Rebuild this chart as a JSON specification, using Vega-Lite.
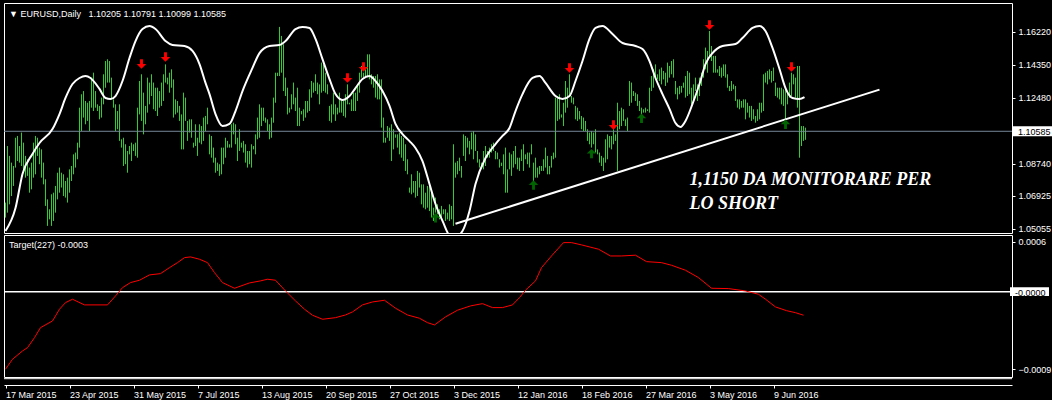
{
"$schema": "https://vega.github.io/schema/vega-lite/v6.json",
"background": "#000000",
"padding": {"left": 2, "top": 2, "right": 0, "bottom": 0},
"spacing": 2,
"bounds": "flush",
"config": {
 "view": {"stroke": "#ffffff", "strokeWidth": 1},
 "axis": {"labelFont": "Liberation Sans", "labelFontSize": 9, "labelColor": "#ffffff", "tickColor": "#ffffff", "domainColor": "#ffffff", "grid": false},
 "title": {"font": "Liberation Sans", "fontSize": 9, "fontWeight": "normal", "color": "#ffffff", "anchor": "start", "frame": "group"}
},
"datasets": {
"bars": [
{"i":0,"h":1.0655,"l":1.0570},{"i":1,"h":1.0975,"l":1.0598},{"i":2,"h":1.0919,"l":1.0645},{"i":3,"h":1.0881,"l":1.0692},{"i":4,"h":1.0862,"l":1.0749},{"i":5,"h":1.1022,"l":1.0853},{"i":6,"h":1.1032,"l":1.0890},{"i":7,"h":1.0975,"l":1.0881},{"i":8,"h":1.1051,"l":1.0862},{"i":9,"h":1.0994,"l":1.0834},
{"i":10,"h":1.0919,"l":1.0796},{"i":11,"h":1.0900,"l":1.0806},{"i":12,"h":1.0853,"l":1.0711},{"i":13,"h":1.0881,"l":1.0730},{"i":14,"h":1.0994,"l":1.0796},{"i":15,"h":1.1032,"l":1.0815},{"i":16,"h":1.1022,"l":1.0919},{"i":17,"h":1.0966,"l":1.0872},{"i":18,"h":1.0956,"l":1.0796},{"i":19,"h":1.0881,"l":1.0758},
{"i":20,"h":1.0787,"l":1.0636},{"i":21,"h":1.0673,"l":1.0523},{"i":22,"h":1.0617,"l":1.0560},{"i":23,"h":1.0702,"l":1.0523},{"i":24,"h":1.0711,"l":1.0551},{"i":25,"h":1.0749,"l":1.0598},{"i":26,"h":1.0824,"l":1.0673},{"i":27,"h":1.0853,"l":1.0711},{"i":28,"h":1.0824,"l":1.0740},{"i":29,"h":1.0815,"l":1.0692},
{"i":30,"h":1.0777,"l":1.0683},{"i":31,"h":1.0796,"l":1.0655},{"i":32,"h":1.0843,"l":1.0711},{"i":33,"h":1.0862,"l":1.0777},{"i":34,"h":1.0928,"l":1.0815},{"i":35,"h":1.0938,"l":1.0853},{"i":36,"h":1.0994,"l":1.0900},{"i":37,"h":1.1192,"l":1.0966},{"i":38,"h":1.1268,"l":1.1060},{"i":39,"h":1.1286,"l":1.1136},
{"i":40,"h":1.1230,"l":1.1098},{"i":41,"h":1.1220,"l":1.1117},{"i":42,"h":1.1230,"l":1.1060},{"i":43,"h":1.1362,"l":1.1192},{"i":44,"h":1.1390,"l":1.1173},{"i":45,"h":1.1286,"l":1.1192},{"i":46,"h":1.1211,"l":1.1173},{"i":47,"h":1.1202,"l":1.1126},{"i":48,"h":1.1249,"l":1.1136},{"i":49,"h":1.1381,"l":1.1211},
{"i":50,"h":1.1456,"l":1.1305},{"i":51,"h":1.1466,"l":1.1334},{"i":52,"h":1.1456,"l":1.1334},{"i":53,"h":1.1362,"l":1.1239},{"i":54,"h":1.1239,"l":1.1192},{"i":55,"h":1.1211,"l":1.1060},{"i":56,"h":1.1173,"l":1.1070},{"i":57,"h":1.1211,"l":1.1004},{"i":58,"h":1.1013,"l":1.0966},{"i":59,"h":1.1022,"l":1.0862},
{"i":60,"h":1.0985,"l":1.0872},{"i":61,"h":1.0947,"l":1.0824},{"i":62,"h":1.0975,"l":1.0928},{"i":63,"h":1.0994,"l":1.0890},{"i":64,"h":1.0985,"l":1.0947},{"i":65,"h":1.0994,"l":1.0919},{"i":66,"h":1.1192,"l":1.0909},{"i":67,"h":1.1343,"l":1.1154},{"i":68,"h":1.1381,"l":1.1117},{"i":69,"h":1.1277,"l":1.1041},
{"i":70,"h":1.1202,"l":1.1098},{"i":71,"h":1.1362,"l":1.1164},{"i":72,"h":1.1334,"l":1.1211},{"i":73,"h":1.1381,"l":1.1258},{"i":74,"h":1.1334,"l":1.1183},{"i":75,"h":1.1305,"l":1.1173},{"i":76,"h":1.1305,"l":1.1145},{"i":77,"h":1.1286,"l":1.1192},{"i":78,"h":1.1334,"l":1.1202},{"i":79,"h":1.1381,"l":1.1230},
{"i":80,"h":1.1437,"l":1.1334},{"i":81,"h":1.1362,"l":1.1324},{"i":82,"h":1.1390,"l":1.1277},{"i":83,"h":1.1409,"l":1.1305},{"i":84,"h":1.1352,"l":1.1136},{"i":85,"h":1.1239,"l":1.1154},{"i":86,"h":1.1230,"l":1.1164},{"i":87,"h":1.1202,"l":1.1117},{"i":88,"h":1.1154,"l":1.0956},{"i":89,"h":1.1277,"l":1.0956},
{"i":90,"h":1.1249,"l":1.1117},{"i":91,"h":1.1117,"l":1.1004},{"i":92,"h":1.1126,"l":1.1051},{"i":93,"h":1.1126,"l":1.1022},{"i":94,"h":1.0994,"l":1.0966},{"i":95,"h":1.1098,"l":1.0975},{"i":96,"h":1.1022,"l":1.0919},{"i":97,"h":1.1098,"l":1.0994},{"i":98,"h":1.1088,"l":1.0985},{"i":99,"h":1.1136,"l":1.1004},
{"i":100,"h":1.1145,"l":1.1060},{"i":101,"h":1.1192,"l":1.1098},{"i":102,"h":1.1041,"l":1.0928},{"i":103,"h":1.1032,"l":1.0909},{"i":104,"h":1.0966,"l":1.0881},{"i":105,"h":1.0909,"l":1.0824},{"i":106,"h":1.0881,"l":1.0834},{"i":107,"h":1.0872,"l":1.0806},{"i":108,"h":1.0966,"l":1.0815},{"i":109,"h":1.0966,"l":1.0872},
{"i":110,"h":1.1022,"l":1.0909},{"i":111,"h":1.1004,"l":1.0966},{"i":112,"h":1.0985,"l":1.0966},{"i":113,"h":1.1098,"l":1.0966},{"i":114,"h":1.1107,"l":1.1041},{"i":115,"h":1.1098,"l":1.0985},{"i":116,"h":1.1022,"l":1.0890},{"i":117,"h":1.1070,"l":1.0947},{"i":118,"h":1.0994,"l":1.0966},{"i":119,"h":1.1004,"l":1.0938},
{"i":120,"h":1.0985,"l":1.0881},{"i":121,"h":1.0947,"l":1.0853},{"i":122,"h":1.0947,"l":1.0872},{"i":123,"h":1.0985,"l":1.0853},{"i":124,"h":1.0975,"l":1.0956},{"i":125,"h":1.1041,"l":1.0928},{"i":126,"h":1.1136,"l":1.1013},{"i":127,"h":1.1211,"l":1.1022},{"i":128,"h":1.1192,"l":1.1088},{"i":129,"h":1.1192,"l":1.1117},
{"i":130,"h":1.1136,"l":1.1107},{"i":131,"h":1.1126,"l":1.1060},{"i":132,"h":1.1098,"l":1.1013},{"i":133,"h":1.1136,"l":1.1022},{"i":134,"h":1.1249,"l":1.1107},{"i":135,"h":1.1390,"l":1.1220},{"i":136,"h":1.1390,"l":1.1371},{"i":137,"h":1.1649,"l":1.1371},{"i":138,"h":1.1598,"l":1.1390},{"i":139,"h":1.1551,"l":1.1286},
{"i":140,"h":1.1362,"l":1.1258},{"i":141,"h":1.1305,"l":1.1154},{"i":142,"h":1.1192,"l":1.1164},{"i":143,"h":1.1268,"l":1.1183},{"i":144,"h":1.1334,"l":1.1211},{"i":145,"h":1.1249,"l":1.1173},{"i":146,"h":1.1305,"l":1.1088},{"i":147,"h":1.1192,"l":1.1088},{"i":148,"h":1.1173,"l":1.1154},{"i":149,"h":1.1183,"l":1.1117},
{"i":150,"h":1.1230,"l":1.1136},{"i":151,"h":1.1230,"l":1.1164},{"i":152,"h":1.1296,"l":1.1173},{"i":153,"h":1.1343,"l":1.1249},{"i":154,"h":1.1334,"l":1.1277},{"i":155,"h":1.1381,"l":1.1286},{"i":156,"h":1.1334,"l":1.1268},{"i":157,"h":1.1324,"l":1.1211},{"i":158,"h":1.1447,"l":1.1277},{"i":159,"h":1.1437,"l":1.1286},
{"i":160,"h":1.1390,"l":1.1277},{"i":161,"h":1.1324,"l":1.1268},{"i":162,"h":1.1202,"l":1.1117},{"i":163,"h":1.1211,"l":1.1107},{"i":164,"h":1.1277,"l":1.1154},{"i":165,"h":1.1211,"l":1.1117},{"i":166,"h":1.1192,"l":1.1154},{"i":167,"h":1.1277,"l":1.1164},{"i":168,"h":1.1239,"l":1.1164},{"i":169,"h":1.1230,"l":1.1145},
{"i":170,"h":1.1268,"l":1.1136},{"i":171,"h":1.1324,"l":1.1211},{"i":172,"h":1.1220,"l":1.1211},{"i":173,"h":1.1239,"l":1.1173},{"i":174,"h":1.1277,"l":1.1173},{"i":175,"h":1.1277,"l":1.1173},{"i":176,"h":1.1315,"l":1.1230},{"i":177,"h":1.1390,"l":1.1277},{"i":178,"h":1.1428,"l":1.1362},{"i":179,"h":1.1390,"l":1.1362},
{"i":180,"h":1.1409,"l":1.1371},{"i":181,"h":1.1494,"l":1.1371},{"i":182,"h":1.1494,"l":1.1352},{"i":183,"h":1.1381,"l":1.1324},{"i":184,"h":1.1371,"l":1.1305},{"i":185,"h":1.1371,"l":1.1249},{"i":186,"h":1.1381,"l":1.1239},{"i":187,"h":1.1352,"l":1.1239},{"i":188,"h":1.1352,"l":1.1079},{"i":189,"h":1.1136,"l":1.0994},
{"i":190,"h":1.1022,"l":1.0994},{"i":191,"h":1.1088,"l":1.1022},{"i":192,"h":1.1079,"l":1.1004},{"i":193,"h":1.1098,"l":1.0890},{"i":194,"h":1.1070,"l":1.0956},{"i":195,"h":1.1041,"l":1.1022},{"i":196,"h":1.1041,"l":1.0966},{"i":197,"h":1.1051,"l":1.0928},{"i":198,"h":1.1032,"l":1.0909},{"i":199,"h":1.1022,"l":1.0890},
{"i":200,"h":1.0985,"l":1.0834},{"i":201,"h":1.0900,"l":1.0815},{"i":202,"h":1.0740,"l":1.0711},{"i":203,"h":1.0815,"l":1.0702},{"i":204,"h":1.0777,"l":1.0711},{"i":205,"h":1.0777,"l":1.0683},{"i":206,"h":1.0834,"l":1.0692},{"i":207,"h":1.0824,"l":1.0740},{"i":208,"h":1.0758,"l":1.0645},{"i":209,"h":1.0758,"l":1.0626},
{"i":210,"h":1.0711,"l":1.0617},{"i":211,"h":1.0749,"l":1.0626},{"i":212,"h":1.0758,"l":1.0607},{"i":213,"h":1.0711,"l":1.0570},{"i":214,"h":1.0626,"l":1.0551},{"i":215,"h":1.0683,"l":1.0598},{"i":216,"h":1.0645,"l":1.0589},{"i":217,"h":1.0617,"l":1.0560},{"i":218,"h":1.0636,"l":1.0570},{"i":219,"h":1.0617,"l":1.0589},
{"i":220,"h":1.0617,"l":1.0551},{"i":221,"h":1.0598,"l":1.0560},{"i":222,"h":1.0645,"l":1.0551},{"i":223,"h":1.0636,"l":1.0560},{"i":224,"h":1.0985,"l":1.0523},{"i":225,"h":1.0881,"l":1.0796},{"i":226,"h":1.0890,"l":1.0815},{"i":227,"h":1.0909,"l":1.0834},{"i":228,"h":1.0862,"l":1.0796},{"i":229,"h":1.1041,"l":1.0919},
{"i":230,"h":1.1032,"l":1.0890},{"i":231,"h":1.1022,"l":1.0966},{"i":232,"h":1.1004,"l":1.0928},{"i":233,"h":1.1051,"l":1.0956},{"i":234,"h":1.1060,"l":1.0900},{"i":235,"h":1.1041,"l":1.0947},{"i":236,"h":1.0947,"l":1.0881},{"i":237,"h":1.0900,"l":1.0853},{"i":238,"h":1.0881,"l":1.0853},{"i":239,"h":1.0947,"l":1.0843},
{"i":240,"h":1.0975,"l":1.0862},{"i":241,"h":1.0947,"l":1.0909},{"i":242,"h":1.0966,"l":1.0909},{"i":243,"h":1.0985,"l":1.0938},{"i":244,"h":1.0994,"l":1.0947},{"i":245,"h":1.0947,"l":1.0900},{"i":246,"h":1.0938,"l":1.0900},{"i":247,"h":1.0900,"l":1.0853},{"i":248,"h":1.0881,"l":1.0862},{"i":249,"h":1.0928,"l":1.0815},
{"i":250,"h":1.0966,"l":1.0711},{"i":251,"h":1.0843,"l":1.0711},{"i":252,"h":1.0938,"l":1.0843},{"i":253,"h":1.0928,"l":1.0806},{"i":254,"h":1.0947,"l":1.0853},{"i":255,"h":1.0975,"l":1.0872},{"i":256,"h":1.0909,"l":1.0843},{"i":257,"h":1.0909,"l":1.0834},{"i":258,"h":1.0956,"l":1.0890},{"i":259,"h":1.0985,"l":1.0834},
{"i":260,"h":1.0928,"l":1.0900},{"i":261,"h":1.0938,"l":1.0872},{"i":262,"h":1.0938,"l":1.0853},{"i":263,"h":1.0985,"l":1.0928},{"i":264,"h":1.0881,"l":1.0777},{"i":265,"h":1.0909,"l":1.0796},{"i":266,"h":1.0853,"l":1.0796},{"i":267,"h":1.0862,"l":1.0815},{"i":268,"h":1.0862,"l":1.0834},{"i":269,"h":1.0900,"l":1.0834},
{"i":270,"h":1.0966,"l":1.0853},{"i":271,"h":1.0919,"l":1.0815},{"i":272,"h":1.0862,"l":1.0815},{"i":273,"h":1.0919,"l":1.0853},{"i":274,"h":1.0938,"l":1.0900},{"i":275,"h":1.1249,"l":1.0909},{"i":276,"h":1.1249,"l":1.1117},{"i":277,"h":1.1268,"l":1.1126},{"i":278,"h":1.1154,"l":1.1136},{"i":279,"h":1.1220,"l":1.1088},
{"i":280,"h":1.1343,"l":1.1164},{"i":281,"h":1.1305,"l":1.1192},{"i":282,"h":1.1381,"l":1.1258},{"i":283,"h":1.1258,"l":1.1220},{"i":284,"h":1.1249,"l":1.1211},{"i":285,"h":1.1202,"l":1.1126},{"i":286,"h":1.1192,"l":1.1117},{"i":287,"h":1.1173,"l":1.1126},{"i":288,"h":1.1145,"l":1.1070},{"i":289,"h":1.1136,"l":1.1060},
{"i":290,"h":1.1117,"l":1.1060},{"i":291,"h":1.1070,"l":1.1004},{"i":292,"h":1.1051,"l":1.0985},{"i":293,"h":1.1060,"l":1.0966},{"i":294,"h":1.1051,"l":1.0985},{"i":295,"h":1.1070,"l":1.0938},{"i":296,"h":1.0956,"l":1.0928},{"i":297,"h":1.0938,"l":1.0881},{"i":298,"h":1.0919,"l":1.0862},{"i":299,"h":1.0909,"l":1.0834},
{"i":300,"h":1.1013,"l":1.0881},{"i":301,"h":1.1041,"l":1.0900},{"i":302,"h":1.1032,"l":1.0966},{"i":303,"h":1.1032,"l":1.0956},{"i":304,"h":1.1070,"l":1.0985},{"i":305,"h":1.1041,"l":1.1004},{"i":306,"h":1.1220,"l":1.0834},{"i":307,"h":1.1173,"l":1.1070},{"i":308,"h":1.1192,"l":1.1088},{"i":309,"h":1.1183,"l":1.1117},
{"i":310,"h":1.1126,"l":1.1088},{"i":311,"h":1.1136,"l":1.1060},{"i":312,"h":1.1343,"l":1.1202},{"i":313,"h":1.1334,"l":1.1220},{"i":314,"h":1.1286,"l":1.1258},{"i":315,"h":1.1277,"l":1.1230},{"i":316,"h":1.1268,"l":1.1202},{"i":317,"h":1.1230,"l":1.1173},{"i":318,"h":1.1192,"l":1.1154},{"i":319,"h":1.1183,"l":1.1164},
{"i":320,"h":1.1192,"l":1.1164},{"i":321,"h":1.1183,"l":1.1173},{"i":322,"h":1.1305,"l":1.1164},{"i":323,"h":1.1371,"l":1.1286},{"i":324,"h":1.1409,"l":1.1305},{"i":325,"h":1.1437,"l":1.1362},{"i":326,"h":1.1381,"l":1.1352},{"i":327,"h":1.1409,"l":1.1343},{"i":328,"h":1.1419,"l":1.1324},{"i":329,"h":1.1400,"l":1.1352},
{"i":330,"h":1.1390,"l":1.1315},{"i":331,"h":1.1447,"l":1.1334},{"i":332,"h":1.1428,"l":1.1362},{"i":333,"h":1.1456,"l":1.1381},{"i":334,"h":1.1466,"l":1.1362},{"i":335,"h":1.1343,"l":1.1268},{"i":336,"h":1.1305,"l":1.1239},{"i":337,"h":1.1315,"l":1.1268},{"i":338,"h":1.1315,"l":1.1277},{"i":339,"h":1.1334,"l":1.1305},
{"i":340,"h":1.1371,"l":1.1249},{"i":341,"h":1.1400,"l":1.1258},{"i":342,"h":1.1390,"l":1.1268},{"i":343,"h":1.1305,"l":1.1211},{"i":344,"h":1.1324,"l":1.1230},{"i":345,"h":1.1362,"l":1.1286},{"i":346,"h":1.1324,"l":1.1230},{"i":347,"h":1.1362,"l":1.1258},{"i":348,"h":1.1390,"l":1.1315},{"i":349,"h":1.1466,"l":1.1362},
{"i":350,"h":1.1532,"l":1.1409},{"i":351,"h":1.1513,"l":1.1390},{"i":352,"h":1.1626,"l":1.1475},{"i":353,"h":1.1541,"l":1.1456},{"i":354,"h":1.1485,"l":1.1390},{"i":355,"h":1.1485,"l":1.1390},{"i":356,"h":1.1409,"l":1.1390},{"i":357,"h":1.1428,"l":1.1371},{"i":358,"h":1.1419,"l":1.1362},{"i":359,"h":1.1437,"l":1.1371},
{"i":360,"h":1.1437,"l":1.1362},{"i":361,"h":1.1381,"l":1.1305},{"i":362,"h":1.1315,"l":1.1286},{"i":363,"h":1.1343,"l":1.1286},{"i":364,"h":1.1324,"l":1.1296},{"i":365,"h":1.1315,"l":1.1230},{"i":366,"h":1.1239,"l":1.1192},{"i":367,"h":1.1239,"l":1.1183},{"i":368,"h":1.1230,"l":1.1192},{"i":369,"h":1.1239,"l":1.1192},
{"i":370,"h":1.1239,"l":1.1126},{"i":371,"h":1.1220,"l":1.1164},{"i":372,"h":1.1202,"l":1.1136},{"i":373,"h":1.1202,"l":1.1117},{"i":374,"h":1.1183,"l":1.1126},{"i":375,"h":1.1145,"l":1.1107},{"i":376,"h":1.1183,"l":1.1117},{"i":377,"h":1.1220,"l":1.1126},{"i":378,"h":1.1220,"l":1.1164},{"i":379,"h":1.1381,"l":1.1173},
{"i":380,"h":1.1390,"l":1.1334},{"i":381,"h":1.1400,"l":1.1324},{"i":382,"h":1.1409,"l":1.1352},{"i":383,"h":1.1400,"l":1.1334},{"i":384,"h":1.1419,"l":1.1343},{"i":385,"h":1.1334,"l":1.1258},{"i":386,"h":1.1305,"l":1.1249},{"i":387,"h":1.1305,"l":1.1239},{"i":388,"h":1.1305,"l":1.1211},{"i":389,"h":1.1296,"l":1.1202},
{"i":390,"h":1.1296,"l":1.1126},{"i":391,"h":1.1286,"l":1.1211},{"i":392,"h":1.1334,"l":1.1249},{"i":393,"h":1.1390,"l":1.1258},{"i":394,"h":1.1381,"l":1.1324},{"i":395,"h":1.1362,"l":1.1249},{"i":396,"h":1.1428,"l":1.1192},{"i":397,"h":1.1428,"l":1.0909},{"i":398,"h":1.1088,"l":1.0975},{"i":399,"h":1.1088,"l":1.1004},
{"i":400,"h":1.1079,"l":1.1010}
],
"curve": [{"i":0,"p":1.0494},{"i":5,"p":1.0624},{"i":8.5,"p":1.0817},{"i":13.5,"p":1.0930},{"i":17,"p":1.0992},{"i":23.5,"p":1.1071},{"i":27,"p":1.1156},{"i":30,"p":1.1247},{"i":33.5,"p":1.1326},{"i":37,"p":1.1360},{"i":40,"p":1.1371},{"i":42.5,"p":1.1360},{"i":47,"p":1.1298},{"i":50,"p":1.1247},{"i":52.5,"p":1.1241},{"i":55,"p":1.1258},{"i":58.5,"p":1.1343},{"i":62,"p":1.1473},{"i":65,"p":1.1569},{"i":68.5,"p":1.1637},{"i":72,"p":1.1654},{"i":75,"p":1.1637},{"i":80,"p":1.1569},{"i":83.5,"p":1.1547},{"i":89.5,"p":1.1541},{"i":93.5,"p":1.1513},{"i":97,"p":1.1439},{"i":100,"p":1.1332},{"i":102,"p":1.1269},{"i":105,"p":1.1156},{"i":108.5,"p":1.1088},{"i":112,"p":1.1100},{"i":115,"p":1.1173},{"i":118.5,"p":1.1286},{"i":123.5,"p":1.1417},{"i":127,"p":1.1501},{"i":132,"p":1.1541},{"i":137,"p":1.1547},{"i":140,"p":1.1569},{"i":145,"p":1.1637},{"i":148.5,"p":1.1649},{"i":152,"p":1.1643},{"i":155,"p":1.1581},{"i":158.5,"p":1.1467},{"i":162,"p":1.1354},{"i":165,"p":1.1269},{"i":168.5,"p":1.1236},{"i":172,"p":1.1258},{"i":175,"p":1.1303},{"i":178.5,"p":1.1354},{"i":182,"p":1.1371},{"i":185,"p":1.1343},{"i":188.5,"p":1.1286},{"i":192,"p":1.1202},{"i":195,"p":1.1100},{"i":198.5,"p":1.1043},{"i":202,"p":1.1003},{"i":205,"p":1.0964},{"i":208.5,"p":1.0890},{"i":212,"p":1.0760},{"i":215,"p":1.0647},{"i":218.5,"p":1.0551},{"i":223.5,"p":1.0449},{"i":228.5,"p":1.0494},{"i":232,"p":1.0607},{"i":235,"p":1.0760},{"i":240,"p":1.0907},{"i":245,"p":1.0986},{"i":248.5,"p":1.1032},{"i":252,"p":1.1077},{"i":255,"p":1.1173},{"i":258.5,"p":1.1269},{"i":263.5,"p":1.1360},{"i":267,"p":1.1371},{"i":270,"p":1.1332},{"i":275,"p":1.1258},{"i":278.5,"p":1.1241},{"i":282,"p":1.1258},{"i":285,"p":1.1343},{"i":288.5,"p":1.1456},{"i":292,"p":1.1581},{"i":295,"p":1.1643},{"i":298.5,"p":1.1654},{"i":303.5,"p":1.1609},{"i":308.5,"p":1.1558},{"i":315,"p":1.1541},{"i":318.5,"p":1.1524},{"i":322,"p":1.1456},{"i":325,"p":1.1360},{"i":328.5,"p":1.1269},{"i":332,"p":1.1185},{"i":335,"p":1.1105},{"i":337.5,"p":1.1083},{"i":340,"p":1.1117},{"i":343.5,"p":1.1213},{"i":347,"p":1.1326},{"i":350,"p":1.1439},{"i":353.5,"p":1.1501},{"i":358.5,"p":1.1541},{"i":365,"p":1.1552},{"i":368.5,"p":1.1586},{"i":373.5,"p":1.1643},{"i":377,"p":1.1654},{"i":380,"p":1.1626},{"i":383.5,"p":1.1530},{"i":387,"p":1.1411},{"i":390,"p":1.1303},{"i":393.5,"p":1.1247},{"i":397,"p":1.1241},{"i":399.5,"p":1.1252}],
"trend": [{"i":225,"p":1.0535},{"i":437,"p":1.1294}],
"down": [{"i":68,"p":1.1439},{"i":80,"p":1.1479},{"i":171,"p":1.1360},{"i":179,"p":1.1422},{"i":282,"p":1.1417},{"i":304,"p":1.1094},{"i":352,"p":1.1660},{"i":393,"p":1.1422}],
"up": [{"i":215,"p":1.0569},{"i":264,"p":1.0754},{"i":293,"p":1.0932},{"i":318,"p":1.1132},{"i":390,"p":1.1098}],
"notes": [{"i":342,"p":1.0754,"t":"1,1150 DA MONITORARE PER"},{"i":342,"p":1.0621,"t":"LO SHORT"}],
"target": [{"i":0,"v":-0.000918},{"i":3.5,"v":-0.0008},{"i":8.5,"v":-0.000702},{"i":11,"v":-0.000663},{"i":14.5,"v":-0.000544},{"i":17.5,"v":-0.000426},{"i":23.5,"v":-0.000347},{"i":27,"v":-0.000208},{"i":30,"v":-0.00013},{"i":33.5,"v":-0.00009},{"i":39.5,"v":-0.000157},{"i":51,"v":-0.000157},{"i":55,"v":-0.000051},{"i":58.5,"v":0.000047},{"i":62.5,"v":0.000107},{"i":67,"v":0.000135},{"i":72,"v":0.000198},{"i":77.5,"v":0.000213},{"i":82,"v":0.000284},{"i":86,"v":0.000343},{"i":89.5,"v":0.000402},{"i":92.5,"v":0.000411},{"i":97,"v":0.000383},{"i":101,"v":0.000343},{"i":104.5,"v":0.000225},{"i":108.5,"v":0.000107},{"i":114.5,"v":0.00004},{"i":122,"v":0.000103},{"i":127.5,"v":0.000127},{"i":131,"v":0.000147},{"i":135,"v":0.000135},{"i":140,"v":0.000008},{"i":145,"v":-0.00011},{"i":149.5,"v":-0.000208},{"i":153.5,"v":-0.000279},{"i":158.5,"v":-0.000327},{"i":165,"v":-0.000308},{"i":170,"v":-0.000276},{"i":173.5,"v":-0.00024},{"i":178.5,"v":-0.000157},{"i":183.5,"v":-0.000122},{"i":189.5,"v":-0.000102},{"i":195,"v":-0.000196},{"i":201,"v":-0.000276},{"i":207,"v":-0.000315},{"i":211,"v":-0.000367},{"i":214.5,"v":-0.000394},{"i":220,"v":-0.000299},{"i":226,"v":-0.00022},{"i":232.5,"v":-0.000169},{"i":238.5,"v":-0.000142},{"i":243.5,"v":-0.000189},{"i":248.5,"v":-0.000189},{"i":253.5,"v":-0.000157},{"i":257,"v":-0.000071},{"i":260,"v":0.000017},{"i":265,"v":0.000127},{"i":268,"v":0.000284},{"i":273,"v":0.000422},{"i":279,"v":0.00058},{"i":283,"v":0.00058},{"i":288,"v":0.000553},{"i":296.5,"v":0.000502},{"i":302.5,"v":0.000422},{"i":308,"v":0.000422},{"i":315,"v":0.000431},{"i":320.5,"v":0.000355},{"i":328,"v":0.000343},{"i":333,"v":0.000312},{"i":340,"v":0.000253},{"i":346.5,"v":0.000166},{"i":353,"v":0.00004},{"i":361.5,"v":0.000036},{"i":370,"v":0.000008},{"i":376.5,"v":-0.000031},{"i":380,"v":-0.00009},{"i":385,"v":-0.000181},{"i":390.5,"v":-0.000225},{"i":395,"v":-0.000249},{"i":399,"v":-0.000279}]
},
"vconcat": [
{
 "width": 1008, "height": 230,
 "title": {"text": "\u25bc EURUSD,Daily\u00a0\u00a0 1.10205 1.10791 1.10099 1.10585", "offset": -16, "dx": 5},
 "layer": [
  {"data": {"name": "bars"},
   "mark": {"type": "rule", "color": "#32cd32", "strokeWidth": 1},
   "encoding": {
    "x": {"field": "i", "type": "quantitative", "scale": {"domain": [-0.75, 503.25], "nice": false, "zero": false}, "axis": null},
    "y": {"field": "h", "type": "quantitative", "scale": {"domain": [1.04828, 1.17844], "nice": false, "zero": false},
          "axis": {"orient": "right", "title": null, "values": [1.1622, 1.1435, 1.1248, 1.0874, 1.06925, 1.05055], "format": ".5f", "tickSize": 3, "labelPadding": 3, "domain": false, "labelFlush": false, "labelBound": false, "labelBaseline": "middle"}},
    "y2": {"field": "l"}}},
  {"data": {"values": [{"p": 1.10585}]},
   "mark": {"type": "rule", "color": "#778899", "strokeWidth": 1},
   "encoding": {"y": {"field": "p", "type": "quantitative"}}},
  {"data": {"name": "curve"},
   "mark": {"type": "line", "color": "#ffffff", "strokeWidth": 2, "interpolate": "monotone", "clip": true},
   "encoding": {"x": {"field": "i", "type": "quantitative"}, "y": {"field": "p", "type": "quantitative"}}},
  {"data": {"name": "trend"},
   "mark": {"type": "line", "color": "#ffffff", "strokeWidth": 2},
   "encoding": {"x": {"field": "i", "type": "quantitative"}, "y": {"field": "p", "type": "quantitative"}}},
  {"data": {"name": "down"},
   "mark": {"type": "point", "shape": "M-0.3,-1L0.3,-1L0.3,0L1,0L0,1L-1,0L-0.3,0Z", "size": 90, "filled": true, "color": "#ff0000", "opacity": 1},
   "encoding": {"x": {"field": "i", "type": "quantitative"}, "y": {"field": "p", "type": "quantitative"}}},
  {"data": {"name": "up"},
   "mark": {"type": "point", "shape": "M-0.3,1L0.3,1L0.3,0L1,0L0,-1L-1,0L-0.3,0Z", "size": 90, "filled": true, "color": "#006400", "opacity": 1},
   "encoding": {"x": {"field": "i", "type": "quantitative"}, "y": {"field": "p", "type": "quantitative"}}},
  {"data": {"name": "notes"},
   "mark": {"type": "text", "align": "left", "baseline": "alphabetic", "font": "Liberation Serif", "fontStyle": "italic", "fontWeight": "bold", "fontSize": 18, "color": "#ffffff"},
   "encoding": {"x": {"field": "i", "type": "quantitative"}, "y": {"field": "p", "type": "quantitative"}, "text": {"field": "t"}}},
  {"data": {"values": [{"p": 1.10585, "t": "1.10585"}]},
   "mark": {"type": "point", "shape": "M-1,-0.25L1,-0.25L1,0.25L-1,0.25Z", "size": 1600, "filled": true, "color": "#ffffff", "opacity": 1, "xOffset": 21},
   "encoding": {"x": {"datum": 503.25, "type": "quantitative"}, "y": {"field": "p", "type": "quantitative"}}},
  {"data": {"values": [{"p": 1.10585, "t": "1.10585"}]},
   "mark": {"type": "text", "align": "left", "baseline": "middle", "dx": 6, "dy": 1, "font": "Liberation Sans", "fontSize": 9, "color": "#000000"},
   "encoding": {"x": {"datum": 503.25, "type": "quantitative"}, "y": {"field": "p", "type": "quantitative"}, "text": {"field": "t"}}}
 ]
},
{
 "width": 1008, "height": 142,
 "title": {"text": "Target(227) -0.0003", "offset": -15, "dx": 5},
 "layer": [
  {"data": {"values": [{"v": 0}]},
   "mark": {"type": "rule", "color": "#ffffff", "strokeWidth": 1.5},
   "encoding": {"y": {"field": "v", "type": "quantitative", "scale": {"domain": [-0.00101, 0.00067], "nice": false, "zero": false},
          "axis": {"orient": "right", "title": null, "values": [0.000591, -0.000919], "format": ".4f", "tickSize": 3, "labelPadding": 3, "domain": false, "labelFlush": false, "labelBound": false, "labelBaseline": "middle"}}}},
  {"data": {"values": [{"v": -0.00103}]},
   "mark": {"type": "rule", "color": "#ffffff", "strokeWidth": 1},
   "encoding": {"y": {"field": "v", "type": "quantitative"}}},
  {"data": {"name": "target"},
   "mark": {"type": "line", "color": "#ff0000", "strokeWidth": 1},
   "encoding": {"x": {"field": "i", "type": "quantitative", "scale": {"domain": [-0.75, 503.25], "nice": false, "zero": false},
          "axis": {"orient": "bottom", "title": null, "offset": 8, "values": [0, 32, 64, 96, 128, 160, 192, 224, 256, 288, 320, 352, 384],
                   "labelExpr": "{'0':'17 Mar 2015','32':'23 Apr 2015','64':'31 May 2015','96':'7 Jul 2015','128':'13 Aug 2015','160':'20 Sep 2015','192':'27 Oct 2015','224':'3 Dec 2015','256':'12 Jan 2016','288':'18 Feb 2016','320':'27 Mar 2016','352':'3 May 2016','384':'9 Jun 2016'}[datum.value]",
                   "labelAlign": "left", "labelFlush": false, "labelOverlap": false, "labelBound": false, "tickSize": 3, "labelPadding": 2, "domain": true}},
          "y": {"field": "v", "type": "quantitative"}}},
  {"data": {"values": [{"v": 0, "t": "-0.0000"}]},
   "mark": {"type": "point", "shape": "M-1,-0.23L1,-0.23L1,0.23L-1,0.23Z", "size": 1521, "filled": true, "color": "#ffffff", "opacity": 1, "xOffset": 17.5},
   "encoding": {"x": {"datum": 503.25, "type": "quantitative"}, "y": {"field": "v", "type": "quantitative"}}},
  {"data": {"values": [{"v": 0, "t": "-0.0000"}]},
   "mark": {"type": "text", "align": "left", "baseline": "middle", "dx": 3, "dy": 1, "font": "Liberation Sans", "fontSize": 9, "color": "#000000"},
   "encoding": {"x": {"datum": 503.25, "type": "quantitative"}, "y": {"field": "v", "type": "quantitative"}, "text": {"field": "t"}}}
 ]
}
]
}
